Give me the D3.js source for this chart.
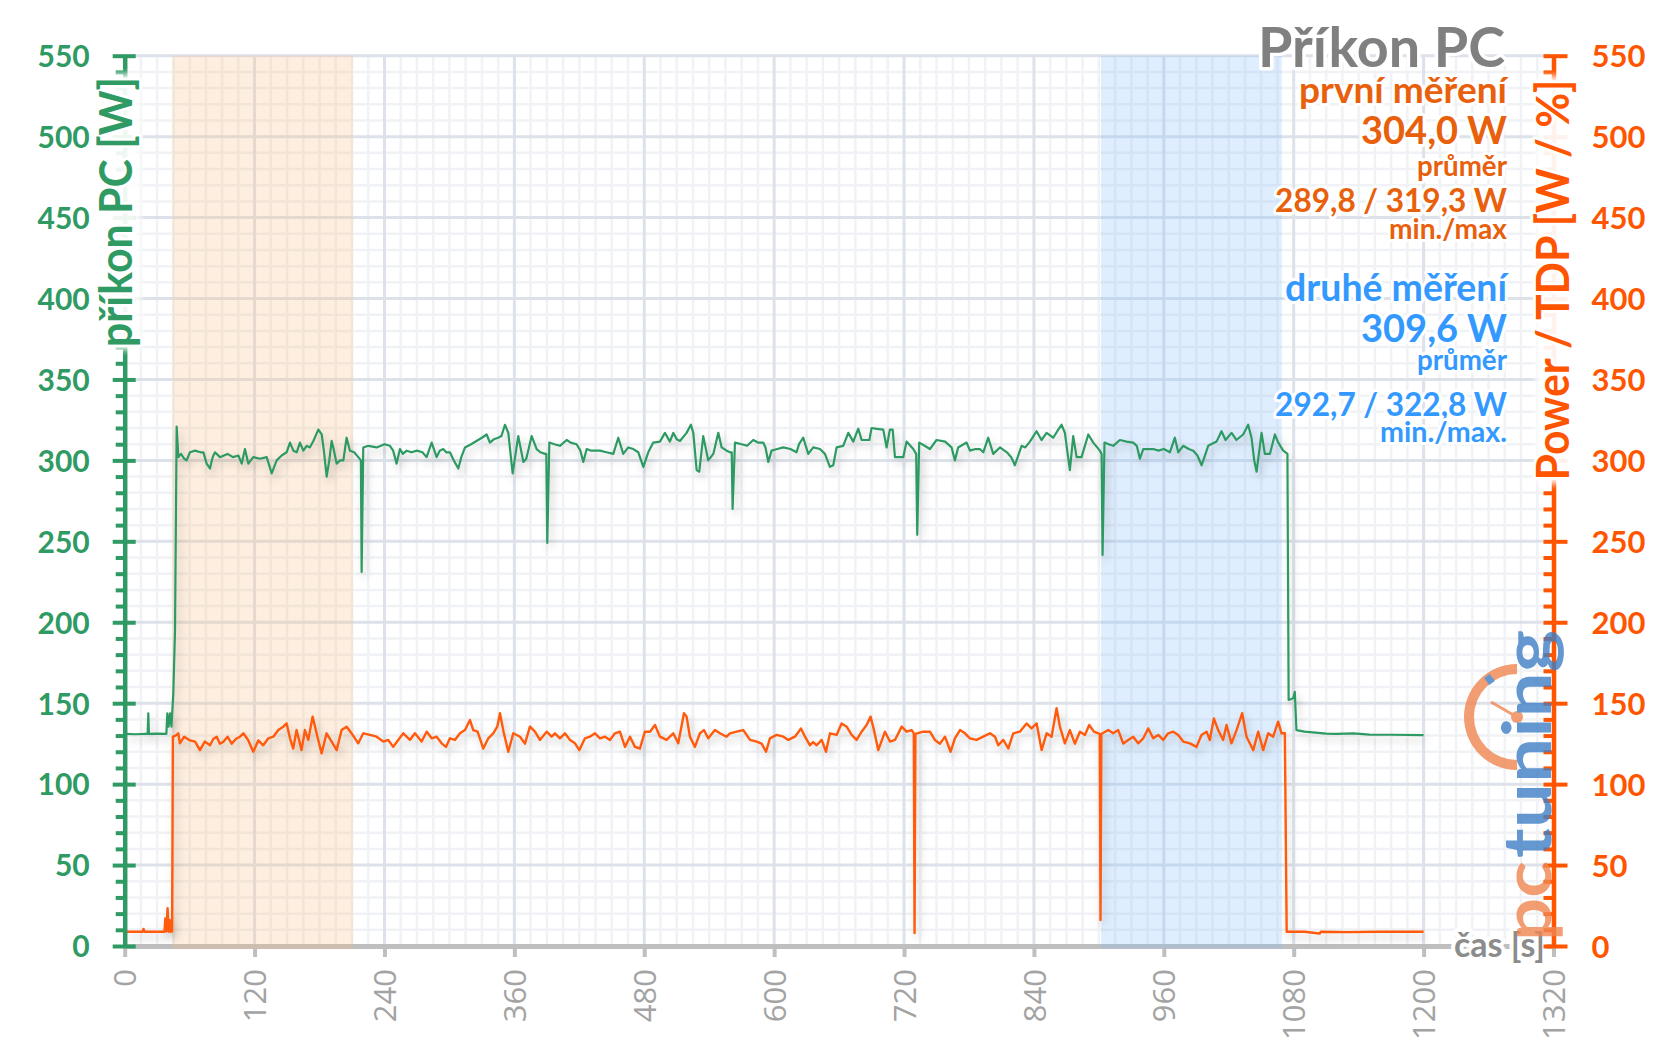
<!DOCTYPE html>
<html><head><meta charset="utf-8">
<script src="https://cdn.jsdelivr.net/npm/d3@7"></script>
<style>body{margin:0;background:#fff}svg{display:block}</style>
</head><body>
<svg id="chart" width="1657" height="1044"></svg>
<script>
// ---------------- DATA ----------------
const xTickValues = [0, 120, 240, 360, 480, 600, 720, 840, 960, 1080, 1200, 1320];
const yTickValues = [0, 50, 100, 150, 200, 250, 300, 350, 400, 450, 500, 550];
const bandRanges = [[44, 211], [902, 1069]];

const titleText = "Příkon PC";
const firstMeasure = ["první měření", "304,0 W", "průměr", "289,8 / 319,3 W", "min./max"];
const secondMeasure = ["druhé měření", "309,6 W", "průměr", "292,7 / 322,8 W", "min./max."];
const leftAxisTitle = "příkon PC [W]";
const rightAxisTitle = "Power / TDP [W / %]";
const xAxisTitle = "čas [s]";

// PC power draw [s, W]
const pcPower = [[0,131],[10,130.8],[20,131],[21.2,131],[21.8,143.7],[22.4,131],[30,131.2],[38.5,131],[39.4,143.7],[40.5,135.5],[41.9,143.7],[43.2,135.5],[44.9,156],[46.5,195],[48,320.8],[49.6,302],[52,304],[55,301],[57.2,300],[60.3,305],[65,306],[70,305],[72.7,305],[75.7,298],[78.8,295],[80.5,300],[81.9,303],[83.4,305],[88,302],[95,304],[100,302],[105,303],[108.1,298],[111.1,307],[114.2,298],[118.8,302],[125,301],[131.2,302],[135.8,292],[140.4,300],[145,303],[149.6,305],[152.7,311],[155.8,306],[158.9,305],[161.9,311],[165,306],[168.1,309],[171,308],[174.3,312],[178.9,319],[182,316],[184,306],[186.6,290],[189,300],[191.2,312],[192.7,308],[195.8,298],[199,300],[202,300],[205,314],[208.1,306],[212,305],[215.8,302],[218.2,300],[218.9,231],[220.4,308],[225,309],[232.8,308],[240,310],[245,309],[248,306],[251.2,298],[254.3,307],[257,304],[260.5,306],[265,305],[270,306],[275,305],[278.9,302],[283.6,311],[288.2,302],[291,306],[294.3,307],[297,305],[300.5,305],[304,300],[308.2,295],[311,302],[314.4,308],[320,310],[325,312],[330,314],[334.4,316],[337.4,311],[341,313],[345.1,314],[348,315],[351.3,322],[354.4,317],[358.4,292],[363.6,315],[368.3,299],[371,301],[376,315],[380.6,307],[384,305],[388.3,304],[389.5,304],[390.4,249],[392.3,311],[397,310],[402.1,309],[408.3,312.6],[412,311],[417.5,310],[421,306],[423.7,299],[426.8,307],[431,306],[435,306],[439.1,306],[445,305],[451.4,304],[456,314],[460.6,304],[465.2,308],[469.9,307],[474.5,305],[479.1,296],[483.7,305],[488.3,311],[494.5,311.6],[499.1,317],[503.7,311.6],[506.8,317],[510,313],[513,312],[519.1,317],[523.1,322],[525.3,317],[528.4,294],[530.8,293],[534.5,315],[539.1,300],[543.8,304],[548.4,317],[551.5,308],[556.1,306],[559.2,305],[560.8,305],[561.6,270],[563.8,311],[570,310],[575,309],[580.7,312.6],[585,311],[589.9,311],[592,308],[594.6,299],[597.6,306],[603,307],[608.4,308],[615,307],[620.7,305],[623,310],[626.9,314],[631.5,304],[636.1,308],[642.3,307],[646.9,304],[651.5,296],[654.6,297],[657.7,308],[663.8,309],[668.5,317],[673.1,311.6],[677.7,319.6],[680.8,312.6],[688,312.6],[690,320],[695,319.5],[700.8,319],[703.9,308],[706.9,319],[709.5,319],[711.6,302],[719.3,302],[722.3,311.6],[728.5,307],[731.2,304],[732.2,254],[734,311],[739,309],[743.9,307],[750,312.6],[758,311.6],[763.9,308],[767,300],[770,308],[777.8,311],[780.9,306],[786,307],[790,307],[793.2,305],[797.8,314],[802.4,304],[808.6,308],[815,305],[819,302],[822.4,297],[828.6,309],[832,308],[836.3,311.6],[842.4,318],[847,312.6],[851.7,317],[857.8,314],[862.5,319],[865.5,322],[868.6,317],[873.2,294],[876.3,315],[879.4,302],[884,302],[890.2,316],[894.8,311],[900.9,306],[902.5,304],[903.4,241.5],[905.2,311],[909,310],[913.3,309],[919.4,312.6],[925.6,311.6],[931.7,311],[935,309],[937.9,301],[941,307],[946,307],[950.2,307],[955,306],[960,307],[965.6,305],[970.2,314],[973.3,305],[977.9,309],[983,307],[987.2,306],[991,303],[994.9,297],[998,303],[1001,309],[1008.7,311.6],[1013.3,318],[1017,312.6],[1022.6,317],[1027,312.6],[1033.3,316],[1037.9,322],[1041,314],[1043.5,300],[1045.7,293],[1048,305],[1050.3,317],[1053.3,304],[1058,304],[1062.6,316],[1065.7,311],[1070.3,306],[1074.2,304],[1075.3,152],[1079.5,153],[1081,157],[1082.5,133.4],[1090,132.4],[1100,131.8],[1110,131.2],[1120,131],[1135,131.4],[1150,130.6],[1170,130.5],[1200,130.3]];

// CPU Power / TDP [s, W]
const cpuPower = [[0,8.8],[16.5,8.8],[17.4,10.5],[18.3,8.8],[36.8,8.8],[37.5,17],[38.5,9],[39.6,23.3],[40.7,8.8],[41.7,16],[42.6,8.8],[43.8,9],[44.5,129.3],[47,130],[49.5,131.4],[51,125.2],[55,129.3],[60.3,127],[65,126.3],[69.5,121],[74,126.3],[78.8,124],[82,128],[85,129.3],[88,125],[91,126],[95,129.3],[98.8,125],[103,128],[106.5,129.3],[109.6,131.4],[114,127.3],[118.8,120],[123.4,127],[128,124],[132.7,128.3],[137.3,129.3],[141.9,133.4],[146.5,135.5],[149.6,137.5],[152.7,128.3],[155.7,122],[158.8,133.4],[163.4,121],[166.5,133.4],[169.6,127.3],[173.6,141.7],[177.3,131.4],[181.9,119],[186.5,131.4],[191.2,126.3],[195.8,121],[200.4,133.4],[205,135.5],[209.6,131.4],[215.8,125.2],[220.4,131.4],[226.6,130.4],[232.7,129.3],[238.9,126.3],[243.5,127.3],[248.1,123],[252.7,127.3],[257.4,131.4],[263.5,127.3],[268.1,131.4],[274.3,126.3],[279,132.4],[283.6,128.3],[288.2,129.3],[292.8,125.2],[296.8,123],[300.5,128.3],[305.1,127.3],[309.7,131.4],[314.4,133.4],[319,139.6],[322,133.4],[326,132.4],[331.3,122],[335.9,128.3],[340.5,131.4],[344.2,135.5],[346.7,143.8],[350,132.4],[354.4,120],[359,131.4],[365.2,129.3],[369.8,125],[374.4,135.5],[379,132.4],[383.6,127.3],[389.8,132.4],[394.4,129.3],[397.5,131.4],[402.1,128.3],[406.7,131.4],[411.4,127.3],[416,125.2],[420,121],[425.2,128.3],[429.8,129.3],[434.4,131.4],[439.1,128.3],[443.7,129.3],[448.3,127.3],[452.9,131.4],[457.5,132.4],[462.2,123],[466.8,129.3],[471.4,123],[476,122],[480.6,132.4],[485.3,132.4],[489.9,136.5],[494.5,129.3],[500.6,127.3],[506.8,131.4],[511.4,125.2],[516.7,143.8],[519.1,141.7],[522.2,129.3],[526.8,123],[531.4,131.4],[535.1,133.4],[539.1,128.3],[545.3,133.4],[549.9,131.4],[556,129.3],[559.2,131.4],[565.4,132.4],[571.5,133.4],[577.7,127.3],[583.8,126.3],[588.4,125],[592.5,120],[596.1,128.3],[602.3,130.4],[608.5,129.3],[613.1,127.3],[619.2,129.3],[624.8,134.4],[628.5,129.3],[633.1,124],[636,126],[639.3,124],[643.9,127.3],[647.9,120],[651.6,131.4],[657.7,130.4],[662.3,137.5],[667,135.5],[671.6,130.4],[676.2,127.3],[680.8,132.4],[685.4,136.5],[689.1,141.7],[692.2,133.4],[696.2,121],[702.4,132.4],[707,126.3],[711.6,127.3],[717.8,135.5],[722.4,132.4],[727,133.4],[729,131.4],[729.7,8],[730.5,131],[737.8,132.4],[743.9,132.4],[748.5,127.3],[753.2,125],[757.8,129.3],[763,120],[767,128.3],[771.7,133.4],[776.3,131.4],[780.9,128.3],[787,127.3],[793.2,129.3],[799.4,131.4],[804,129.3],[807,124],[811.7,127.3],[816.3,122],[820.9,131.4],[827,132.4],[833.2,137.5],[837.8,134.4],[842.5,137.5],[847.1,121],[851.7,131.4],[856.3,129.3],[860.9,146.9],[864,135.5],[868.6,125.2],[873.2,133.4],[877.8,125],[882.5,132.4],[887.1,130.4],[891.1,136.5],[895.4,132.4],[899.4,131.4],[900.8,131],[901.5,16],[902.3,131],[908.6,133.4],[913.2,131.4],[917.9,133.4],[922.5,125],[927.1,127.3],[931.7,129.3],[936.3,125.2],[941,128.3],[945.6,134.4],[950.2,128.3],[954.8,130.4],[959.4,127.3],[964,131.4],[968.7,132.4],[973.3,130.4],[977.9,126.3],[984.1,125.2],[990.2,123],[994.8,130.4],[999.5,132.4],[1002.5,127.3],[1006.2,140.6],[1010.2,133.4],[1014.8,127.3],[1017.9,136.5],[1022.5,125.2],[1027.2,133.4],[1032.4,143.8],[1036.4,129.3],[1042.6,121],[1047.2,132.4],[1051.8,121],[1056.4,131.4],[1061,129.3],[1065.6,138.6],[1068.7,131.4],[1071.8,131.4],[1073.5,8.8],[1090,8.8],[1104,7.7],[1105,8.8],[1130,8.6],[1160,8.8],[1200,8.8]];

// ---------------- LAYOUT ----------------
const GREEN = "#2f9a63", ORANGE = "#ff5500", GRAY_AX = "#bfbfbf";
const TXT_OR = "#e8600c", TXT_BL = "#3399ff";
const svg = d3.select("#chart");
const x = d3.scaleLinear().domain([0, 1320]).range([124.7, 1553.5]);
const y = d3.scaleLinear().domain([0, 550]).range([946, 55.7]);
const yR = d3.scaleLinear().domain([0, 550]).range([946, 55.7]);
const [X0, X1] = x.range(), [Y0, Y1] = y.range();

const defs = svg.append("defs");
const f = defs.append("filter").attr("id", "shadow").attr("filterUnits", "userSpaceOnUse")
  .attr("x", 0).attr("y", 0).attr("width", 1657).attr("height", 1044);
f.append("feDropShadow").attr("dx", 3).attr("dy", 5).attr("stdDeviation", 4)
  .attr("flood-color", "#000").attr("flood-opacity", 0.22);
defs.append("filter").attr("id", "soft").attr("x", "-30%").attr("y", "-10%").attr("width", "160%").attr("height", "120%")
  .append("feGaussianBlur").attr("stdDeviation", 3);

function fit(sel, target) {
  const w = sel.node().getComputedTextLength();
  const fs = parseFloat(sel.attr("font-size"));
  if (w > 0) sel.attr("font-size", (fs * target / w).toFixed(2));
  return sel;
}
function halo(sel, w) {
  return sel.attr("stroke", "#fff").attr("stroke-width", w).attr("stroke-linejoin", "round")
    .attr("paint-order", "stroke");
}

// grid
const grid = svg.append("g");
grid.selectAll(".vmin").data(d3.range(0, 1321, 15).filter(v => v % 120 !== 0)).join("line")
  .attr("x1", d => x(d)).attr("x2", d => x(d)).attr("y1", Y1).attr("y2", Y0)
  .attr("stroke", "#f0f2f5").attr("stroke-width", 2.5);
grid.selectAll(".hmin").data(d3.range(0, 551, 10).filter(v => v % 50 !== 0)).join("line")
  .attr("y1", d => y(d)).attr("y2", d => y(d)).attr("x1", X0).attr("x2", X1)
  .attr("stroke", "#f0f2f5").attr("stroke-width", 2.5);
grid.selectAll(".vmaj").data(xTickValues.slice(1)).join("line")
  .attr("x1", d => x(d)).attr("x2", d => x(d)).attr("y1", Y1).attr("y2", Y0)
  .attr("stroke", "#dde2ea").attr("stroke-width", 3);
grid.selectAll(".hmaj").data(yTickValues.slice(1)).join("line")
  .attr("y1", d => y(d)).attr("y2", d => y(d)).attr("x1", X0).attr("x2", X1)
  .attr("stroke", "#dde2ea").attr("stroke-width", 3);

// x axis
const gx = svg.append("g").attr("transform", `translate(0,${Y0})`)
  .call(d3.axisBottom(x).tickValues(xTickValues).tickFormat(d3.format("d")).tickSize(11).tickSizeOuter(0));
gx.select(".domain").attr("stroke", GRAY_AX).attr("stroke-width", 5);
gx.selectAll(".tick line").attr("stroke", GRAY_AX).attr("stroke-width", 4);
gx.selectAll(".tick text").attr("transform", "rotate(-90)").attr("text-anchor", "end")
  .attr("x", -23).attr("y", 0).attr("dy", "0.36em")
  .attr("font-family", "'Open Sans', sans-serif").attr("font-size", 31).attr("fill", "#a3a3a3");

// bands
const bandColors = ["rgba(248,190,130,0.26)", "rgba(130,190,250,0.26)"];
svg.append("g").selectAll("rect").data(bandRanges).join("rect")
  .attr("x", d => x(d[0])).attr("width", d => x(d[1]) - x(d[0]))
  .attr("y", Y1).attr("height", Y0 - Y1 + 2.5)
  .attr("fill", (d, i) => bandColors[i]);

// lines
const line = d3.line().x(d => x(d[0])).y(d => y(d[1]));
const lineR = d3.line().x(d => x(d[0])).y(d => yR(d[1]));
svg.append("path").datum(pcPower).attr("d", line).attr("fill", "none")
  .attr("stroke", GREEN).attr("stroke-width", 2.2).attr("stroke-linejoin", "round").attr("filter", "url(#shadow)");
svg.append("path").datum(cpuPower).attr("d", lineR).attr("fill", "none")
  .attr("stroke", "#ff5a0a").attr("stroke-width", 2.4).attr("stroke-linejoin", "round").attr("filter", "url(#shadow)");

// x axis title
halo(svg.append("text").attr("x", 1545).attr("y", 957).attr("text-anchor", "end")
  .attr("font-family", "Lato, sans-serif").attr("font-weight", 700).attr("font-size", 34)
  .attr("fill", "#8c8c8c").text(xAxisTitle), 8);

// left axis
const minorTicks = d3.range(0, 551, 10).filter(v => v % 50 !== 0);
const gl = svg.append("g").attr("transform", `translate(${X0},0)`)
  .call(d3.axisLeft(y).tickValues(yTickValues).tickSize(12).tickSizeOuter(0));
gl.select(".domain").attr("stroke", GREEN).attr("stroke-width", 4.5);
gl.selectAll(".tick line").attr("stroke", GREEN).attr("stroke-width", 4).attr("x1", 11);
gl.selectAll(".tick text").attr("x", -35).attr("dy", "0.36em")
  .attr("font-family", "Lato, sans-serif").attr("font-weight", 700).attr("font-size", 30).attr("fill", GREEN);
const glm = svg.append("g").attr("transform", `translate(${X0},0)`)
  .call(d3.axisLeft(y).tickValues(minorTicks).tickSize(9).tickFormat(""));
glm.select(".domain").remove();
glm.selectAll(".tick line").attr("stroke", GREEN).attr("stroke-width", 4);

// right axis
const gr = svg.append("g").attr("transform", `translate(${X1},0)`)
  .call(d3.axisRight(yR).tickValues(yTickValues).tickSize(14).tickSizeOuter(0));
gr.select(".domain").attr("stroke", ORANGE).attr("stroke-width", 4.5);
gr.selectAll(".tick line").attr("stroke", ORANGE).attr("stroke-width", 4).attr("x1", -10);
gr.selectAll(".tick text").attr("x", 38).attr("dy", "0.36em")
  .attr("font-family", "Lato, sans-serif").attr("font-weight", 700).attr("font-size", 31).attr("fill", ORANGE);
const grm = svg.append("g").attr("transform", `translate(${X1},0)`)
  .call(d3.axisRight(yR).tickValues(minorTicks).tickSize(0).tickFormat(""));
grm.select(".domain").remove();
grm.selectAll(".tick line").attr("stroke", ORANGE).attr("stroke-width", 4).attr("x1", -10).attr("x2", 0);

// axis titles (white soft backing hides the axis behind them, as in the reference)
svg.append("rect").attr("x", 98).attr("y", 74).attr("width", 42).attr("height", 276)
  .attr("fill", "#fff").attr("opacity", 0.92).attr("filter", "url(#soft)");
svg.append("rect").attr("x", 1536).attr("y", 76).attr("width", 42).attr("height", 408)
  .attr("fill", "#fff").attr("opacity", 0.92).attr("filter", "url(#soft)");
halo(svg.append("text").attr("transform", "translate(132,212) rotate(-90)")
  .attr("text-anchor", "middle").attr("font-family", "Lato, sans-serif").attr("font-weight", 700)
  .attr("font-size", 46).attr("fill", GREEN)
  .attr("textLength", 270).attr("lengthAdjust", "spacingAndGlyphs").text(leftAxisTitle), 6);
halo(svg.append("text").attr("transform", "translate(1569,280) rotate(-90)")
  .attr("text-anchor", "middle").attr("font-family", "Lato, sans-serif").attr("font-weight", 700)
  .attr("font-size", 45).attr("fill", ORANGE)
  .attr("textLength", 401).attr("lengthAdjust", "spacingAndGlyphs").text(rightAxisTitle), 6);

// right-side text block
const RX = 1507;
const tt = halo(svg.append("text").attr("x", 1505).attr("y", 67).attr("text-anchor", "end")
  .attr("font-family", "Lato, sans-serif").attr("font-weight", 700).attr("font-size", 54)
  .attr("fill", "#808080").text(titleText), 7);
fit(tt, 247);
const blockLayout = [
  { y: 103, w: 208, fs: 32 }, { y: 144, w: 146, fs: 34 }, { y: 176, w: 90, fs: 23 },
  { y: 212, w: 232, fs: 28 }, { y: 239, w: 118, fs: 21 }
];
const blockLayout2 = [
  { y: 301, w: 222, fs: 32 }, { y: 342, w: 146, fs: 34 }, { y: 370, w: 90, fs: 23 },
  { y: 416, w: 232, fs: 28 }, { y: 442, w: 127, fs: 21 }
];
function block(lines, layout, color) {
  lines.forEach((s, i) => {
    const L = layout[i];
    const t = halo(svg.append("text").attr("x", RX).attr("y", L.y).attr("text-anchor", "end")
      .attr("font-family", "Lato, sans-serif").attr("font-weight", 700).attr("font-size", L.fs)
      .attr("fill", color).text(s), 6);
    fit(t, L.w);
  });
}
block(firstMeasure, blockLayout, TXT_OR);
block(secondMeasure, blockLayout2, TXT_BL);

// watermark logo
const logo = svg.append("g").attr("opacity", 0.8);
const cx = 1517, cy = 717;
logo.append("path").attr("transform", `translate(${cx},${cy})`)
  .attr("d", d3.arc()({ innerRadius: 43, outerRadius: 53, startAngle: Math.PI, endAngle: 2 * Math.PI }))
  .attr("fill", "#f08550");
logo.append("line").attr("x1", cx - 25).attr("y1", cy - 34).attr("x2", cx - 30).attr("y2", cy - 41)
  .attr("stroke", "#3f7fc6").attr("stroke-width", 7);
logo.append("line").attr("x1", cx).attr("y1", cy).attr("x2", cx - 26).attr("y2", cy - 15)
  .attr("stroke", "#f08550").attr("stroke-width", 3);
logo.append("circle").attr("cx", cx).attr("cy", cy).attr("r", 6).attr("fill", "#f08550");
logo.append("text").attr("transform", "translate(1551,941) rotate(-90)")
  .attr("font-family", "Lato, sans-serif").attr("font-weight", 700).attr("font-size", 66)
  .attr("fill", "#f08550").attr("textLength", 80).attr("lengthAdjust", "spacingAndGlyphs").text("pc");
logo.append("text").attr("transform", "translate(1551,858) rotate(-90)")
  .attr("font-family", "Lato, sans-serif").attr("font-weight", 700).attr("font-size", 66)
  .attr("fill", "#3f7fc6").attr("textLength", 228).attr("lengthAdjust", "spacingAndGlyphs").text("tuning");
</script>
</body></html>
